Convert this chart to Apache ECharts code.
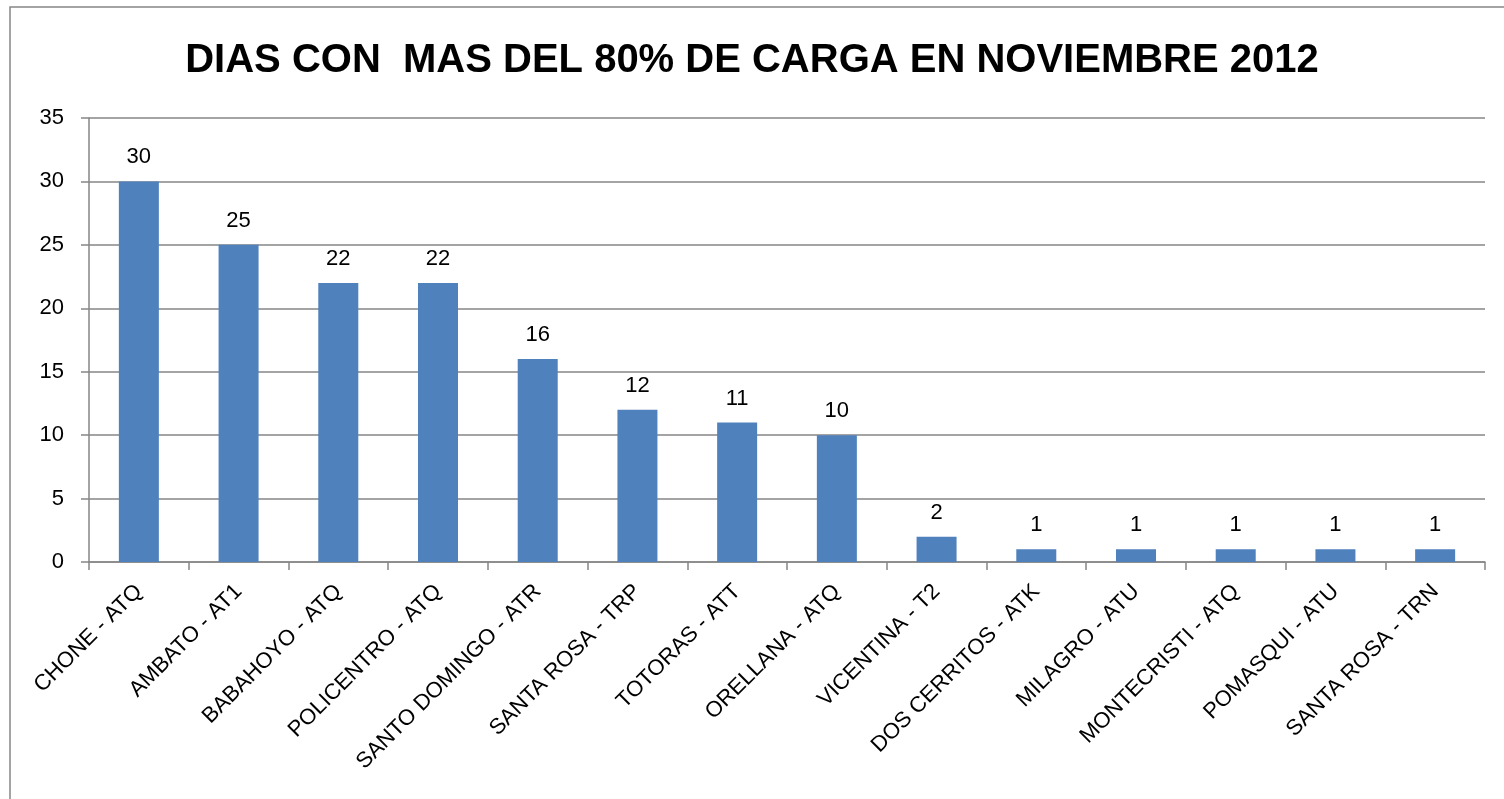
<!DOCTYPE html>
<html><head><meta charset="utf-8">
<script src="https://cdn.jsdelivr.net/npm/echarts@6/dist/echarts.min.js"></script>
<style>html,body{margin:0;padding:0;background:#fff}#c{width:1504px;height:799px}</style>
</head><body><div id="c"></div>
<script>
const titleText = 'DIAS CON  MAS DEL 80% DE CARGA EN NOVIEMBRE 2012';
const categories = ['CHONE - ATQ','AMBATO - AT1','BABAHOYO - ATQ','POLICENTRO - ATQ','SANTO DOMINGO - ATR','SANTA ROSA - TRP','TOTORAS - ATT','ORELLANA - ATQ','VICENTINA - T2','DOS CERRITOS - ATK','MILAGRO - ATU','MONTECRISTI - ATQ','POMASQUI - ATU','SANTA ROSA - TRN'];
const values = [30,25,22,22,16,12,11,10,2,1,1,1,1,1];
const yTicks = [0,5,10,15,20,25,30,35];

const chart = echarts.init(document.getElementById('c'));
const font = 'Liberation Sans, Arial, sans-serif';
chart.setOption({
  animation:false,
  graphic:[{type:'rect',shape:{x:10,y:7,width:1600,height:900},style:{fill:'none',stroke:'#868686',lineWidth:1.5},silent:true}],
  title:{text:titleText,left:'center',top:36,textStyle:{fontFamily:font,fontWeight:'bold',fontSize:40,color:'#000'}},
  grid:{left:89,right:19,top:118,bottom:237,containLabel:false},
  xAxis:{type:'category',data:categories,
    axisLine:{lineStyle:{color:'#868686',width:1.5}},
    axisTick:{show:true,length:8,lineStyle:{color:'#868686',width:1.5},alignWithLabel:false},
    axisLabel:{rotate:45,interval:0,fontFamily:font,fontSize:22,color:'#000',margin:26}},
  yAxis:{type:'value',min:yTicks[0],max:yTicks[yTicks.length-1],interval:5,
    axisLine:{show:true,lineStyle:{color:'#868686',width:1.5}},
    axisTick:{show:true,length:8,lineStyle:{color:'#868686',width:1.5}},
    splitLine:{lineStyle:{color:'#868686',width:1.5}},
    axisLabel:{fontFamily:font,fontSize:22,color:'#000',margin:25}},
  series:[{type:'bar',data:values,barWidth:40,itemStyle:{color:'#4F81BD'},
    label:{show:true,position:'top',distance:13,fontFamily:font,fontSize:22,color:'#000'}}]
});
</script></body></html>
